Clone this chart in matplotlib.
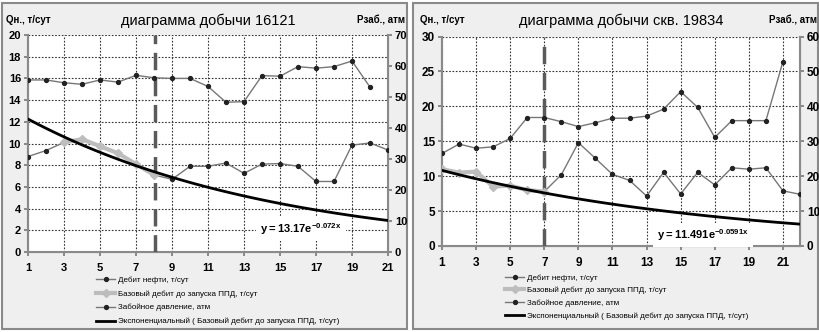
import matplotlib
matplotlib.use('Agg')
import matplotlib.pyplot as plt
from matplotlib.patches import Rectangle
import numpy as np

plt.rcParams['font.family'] = ['Liberation Sans', 'DejaVu Sans']
plt.rcParams['mathtext.fontset'] = 'custom'
plt.rcParams['mathtext.rm'] = 'Liberation Sans'
plt.rcParams['mathtext.bf'] = 'Liberation Sans:bold'

# скв. 16121
x_1 = list(range(1, 22))
oil_1 = [8.8, 9.35, 10.1, 10.4, 9.75, 9.1, 8.1, 7.1, 6.7, 7.9, 7.9, 8.2, 7.25, 8.1, 8.15, 7.9, 6.5, 6.5, 9.85, 10.05, 9.4]
base_x_1 = [3, 4, 5, 6, 7, 8]
base_1 = [10.1, 10.4, 9.75, 9.1, 8.1, 7.1]
press_x_1 = list(range(1, 21))
press_1 = [55.5, 55.5, 54.6, 54.1, 55.5, 54.8, 57.0, 56.2, 56.0, 56.0, 53.4, 48.3, 48.5, 56.9, 56.7, 59.8, 59.3, 59.8, 61.6, 53.2]
trend_1 = (13.17, -0.072)
ppd_1 = 8.05

# скв. 19834
x_2 = list(range(1, 23))
oil_2 = [11.0, 10.5, 10.65, 8.5, 8.65, 8.0, 7.8, 10.2, 14.8, 12.55, 10.25, 9.4, 7.15, 10.55, 7.45, 10.55, 8.75, 11.2, 11.0, 11.2, 7.9, 7.4]
base_x_2 = [1, 2, 3, 4, 5, 6, 7]
base_2 = [11.0, 10.5, 10.65, 8.5, 8.65, 8.0, 7.8]
press_x_2 = list(range(1, 22))
press_2 = [26.5, 29.2, 28.0, 28.4, 30.8, 36.8, 36.8, 35.6, 34.2, 35.3, 36.6, 36.6, 37.2, 39.2, 44.2, 39.7, 31.1, 35.9, 35.9, 35.9, 52.8]
trend_2 = (11.491, -0.0591)
ppd_2 = 7

lab = ['Дебит нефти, т/сут', 'Базовый дебит до запуска ППД, т/сут',
       'Забойное давление, атм', 'Экспоненциальный ( Базовый дебит до запуска ППД, т/сут)']

fig = plt.figure(figsize=(8.2, 3.32), dpi=100)
W, H = 820, 332


def px(x0, y0, x1, y1):
    # пиксели -> доли фигуры
    return [x0 / W, 1 - y1 / H, (x1 - x0) / W, (y1 - y0) / H]


# рамки панелей
for r in [(2, 3, 407, 329), (413, 3, 818, 329)]:
    fig.patches.append(Rectangle((r[0] / W, 1 - r[3] / H), (r[2] - r[0]) / W, (r[3] - r[1]) / H,
                                 transform=fig.transFigure, facecolor='#efefef', edgecolor='#8a8a8a',
                                 lw=1.5, zorder=-10))


def draw(box, x, oil, bx, base, prx, pr, trend, ppd, xmax, ymax, ystep, rmax, title, eq, eqpos, legpos, fs):
    ax = fig.add_axes(px(*box))
    ax.set_facecolor('white')
    ax2 = ax.twinx()
    ax.set_zorder(2)
    ax.patch.set_visible(True)
    ax2.set_zorder(1)

    ax.set_xlim(1, xmax)
    ax.set_ylim(0, ymax)
    ax2.set_ylim(0, rmax)
    ax.set_xticks(range(1, xmax + 1, 2))
    ax.set_yticks(np.arange(0, ymax + 0.1, ystep))
    ax2.set_yticks(np.arange(0, rmax + 0.1, 10))
    ax.grid(True, color='#333333', ls=(0, (1.5, 1.5)), lw=0.8)
    for a in (ax, ax2):
        a.tick_params(labelsize=fs, width=1.2, length=3, color='#777777', pad=2)
        for t in a.get_xticklabels() + a.get_yticklabels():
            t.set_fontweight('bold')
        for s in a.spines.values():
            s.set_color('#8a8a8a')
            s.set_linewidth(1.5)
        a.spines['top'].set_visible(False)
    ax.tick_params(axis='x', pad=5)

    ax.axvline(ppd, color='#5a5a5a', lw=2.5, ls=(0, (5, 2.5)), zorder=3)

    h1, = ax.plot(x, oil, color='#777777', lw=1, marker='o', ms=2.8, mfc='#222222', mec='#222222', zorder=4)
    h2, = ax.plot(bx, base, color='#bdbdbd', lw=3, marker='D', ms=4, mfc='#bdbdbd', mec='#bdbdbd', zorder=5)
    # давление на правой оси, переносим в шкалу левой
    h3, = ax.plot(prx, np.array(pr) * ymax / rmax, color='#777777', lw=1, marker='o', ms=2.8,
                  mfc='#222222', mec='#222222', zorder=4)
    xt = np.linspace(1, xmax, 100)
    h4, = ax.plot(xt, trend[0] * np.exp(trend[1] * xt), color='black', lw=2, zorder=6)

    ax.text(eqpos[0], eqpos[1], eq, fontsize=8, fontweight='bold', va='center', zorder=7,
            bbox=dict(facecolor='white', edgecolor='none', pad=3))

    cx = (box[0] + box[2]) / 2
    fig.text(cx / W, 1 - 21 / H, title, ha='center', va='center', fontsize=10.5)
    fig.text((box[0] - 22) / W, 1 - 20 / H, 'Qн., т/сут', ha='left', va='center', fontsize=7, fontweight='bold')
    fig.text((box[2] + 17) / W, 1 - 20 / H, 'Рзаб., атм', ha='right', va='center', fontsize=7, fontweight='bold')

    fig.legend([h1, h2, h3, h4], lab, loc='upper left', bbox_to_anchor=(legpos[0] / W, 1 - legpos[1] / H),
               frameon=False, fontsize=5.8, handlelength=2.4, handletextpad=0.3, labelspacing=legpos[2],
               borderaxespad=0, borderpad=0)


draw((28, 35, 388, 252), x_1, oil_1, base_x_1, base_1, press_x_1, press_1, trend_1, ppd_1,
     21, 20, 2, 70, 'диаграмма добычи 16121', r'$\mathbf{y = 13.17e^{-0.072x}}$', (13.9, 2.1), (96, 276, 0.78), 8)
draw((442, 36.5, 800, 246), x_2, oil_2, base_x_2, base_2, press_x_2, press_2, trend_2, ppd_2,
     22, 30, 5, 60, 'диаграмма добычи скв. 19834', r'$\mathbf{y = 11.491e^{-0.0591x}}$', (13.6, 1.6), (505, 274, 0.62), 8.5)

fig.savefig('out.png', dpi=100)
